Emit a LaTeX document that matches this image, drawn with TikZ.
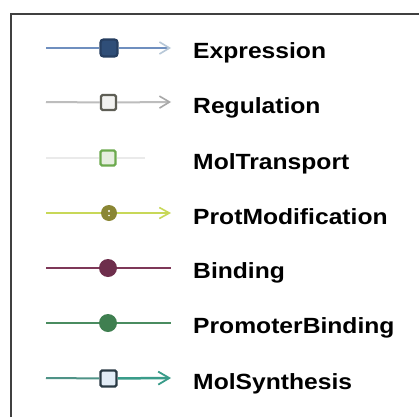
\documentclass[tikz,border=0pt]{standalone}
\usepackage{fontspec}
\setmainfont{Liberation Sans}
\usetikzlibrary{arrows.meta}

\definecolor{exprline}{HTML}{6F8FBF}
\definecolor{exprfill}{HTML}{2F4E78}
\definecolor{exprtip}{HTML}{B8C8D8}
\definecolor{regline}{HTML}{BDBDBD}
\definecolor{regdraw}{HTML}{5E5E55}
\definecolor{regfill}{HTML}{F2F2F0}
\definecolor{regtip}{HTML}{A8A8A8}
\definecolor{transline}{HTML}{EAEAEA}
\definecolor{transdraw}{HTML}{6CAA4E}
\definecolor{transfill}{HTML}{E6EEDF}
\definecolor{protline}{HTML}{C8D858}
\definecolor{protfill}{HTML}{8A8634}
\definecolor{bindline}{HTML}{7E3858}
\definecolor{bindfill}{HTML}{6E2E4C}
\definecolor{promline}{HTML}{4A8C60}
\definecolor{promfill}{HTML}{3F7F50}
\definecolor{synline}{HTML}{3A9C8A}
\definecolor{syndraw}{HTML}{2A3A44}
\definecolor{synfill}{HTML}{E2ECF6}
\definecolor{framecol}{HTML}{404040}

\begin{document}
\begin{tikzpicture}[x=1pt,y=-1pt,
  legline/.style={line width=2pt},
  sqmark/.style={draw,line width=2.2pt,rounded corners=1.5pt,minimum size=15pt,inner sep=0pt},
  rdmark/.style={circle,inner sep=0pt,minimum size=#1},
  label/.style={anchor=base west,inner sep=0pt,font=\fontsize{22}{26}\selectfont\bfseries,xscale=1.12}
]
\useasboundingbox[fill=white] (0,0) rectangle (419,417);

% frame (top and left edges)
\draw[framecol,line width=2.5pt] (11,417) -- (11,14) -- (419,14);

% row positions
\foreach \n/\y in {a/48,b/102,c/158,d/213,e/268,f/323,g/378}{
  \coordinate (\n0) at (46,\y);
  \coordinate (\n1) at (171,\y);
}

% Expression
\node[sqmark,draw=exprfill!80!black,fill=exprfill,minimum size=17pt,rounded corners=3pt] (ma) at (109,48) {};
\draw[legline,exprline] (a0) -- (ma);
\draw[legline,exprline,-{Straight Barb[length=10pt,width=12pt,line width=1.6pt,color=exprtip]}] (ma) -- (a1);
\node[label] (ta) at (193,59) {Expression};

% Regulation
\node[sqmark,draw=regdraw,fill=regfill] (mb) at (108.5,102.5) {};
\draw[legline,regline] (b0) -- (mb);
\draw[legline,regline,-{Straight Barb[length=10pt,width=12pt,line width=1.6pt,color=regtip]}] (mb) -- (b1);
\node[label] (tb) at (193,113) {Regulation};

% MolTransport
\node[sqmark,draw=transdraw,fill=transfill] (mc) at (108,158) {};
\coordinate (c2) at (145,158);
\draw[legline,transline] (c0) -- (mc);
\draw[legline,transline] (mc) -- (c2);
\node[label] (tc) at (193,169) {MolTransport};

% ProtModification
\node[rdmark=16pt,fill=protfill] (md) at (109,213) {};
\fill[white] (md.center) ++(0,-2) circle (1.1pt);
\fill[white] (md.center) ++(0,2.5) circle (0.9pt);
\draw[legline,protline] (d0) -- (md);
\draw[legline,protline,-{Straight Barb[length=10pt,width=11pt,line width=1.6pt]}] (md) -- (d1);
\node[label] (td) at (193,224) {ProtModification};

% Binding
\node[rdmark=18pt,fill=bindfill] (me) at (108,268) {};
\draw[legline,bindline,line width=2.5pt] (e0) -- (me);
\draw[legline,bindline,line width=2.5pt] (me) -- (e1);
\node[label] (te) at (193,278) {Binding};

% PromoterBinding
\node[rdmark=18pt,fill=promfill] (mf) at (108,323) {};
\draw[legline,promline] (f0) -- (mf);
\draw[legline,promline] (mf) -- (f1);
\node[label] (tf) at (193,333) {PromoterBinding};

% MolSynthesis
\node[sqmark,draw=syndraw,fill=synfill,minimum size=16pt] (mg) at (108.5,378.5) {};
\draw[legline,synline!70!gray] (g0) -- (mg);
\draw[legline,synline,line width=2.5pt,-{Straight Barb[length=11pt,width=13pt,line width=1.8pt]}] (mg) -- (g1);
\node[label] (tg) at (193,389) {MolSynthesis};
\end{tikzpicture}
\end{document}
